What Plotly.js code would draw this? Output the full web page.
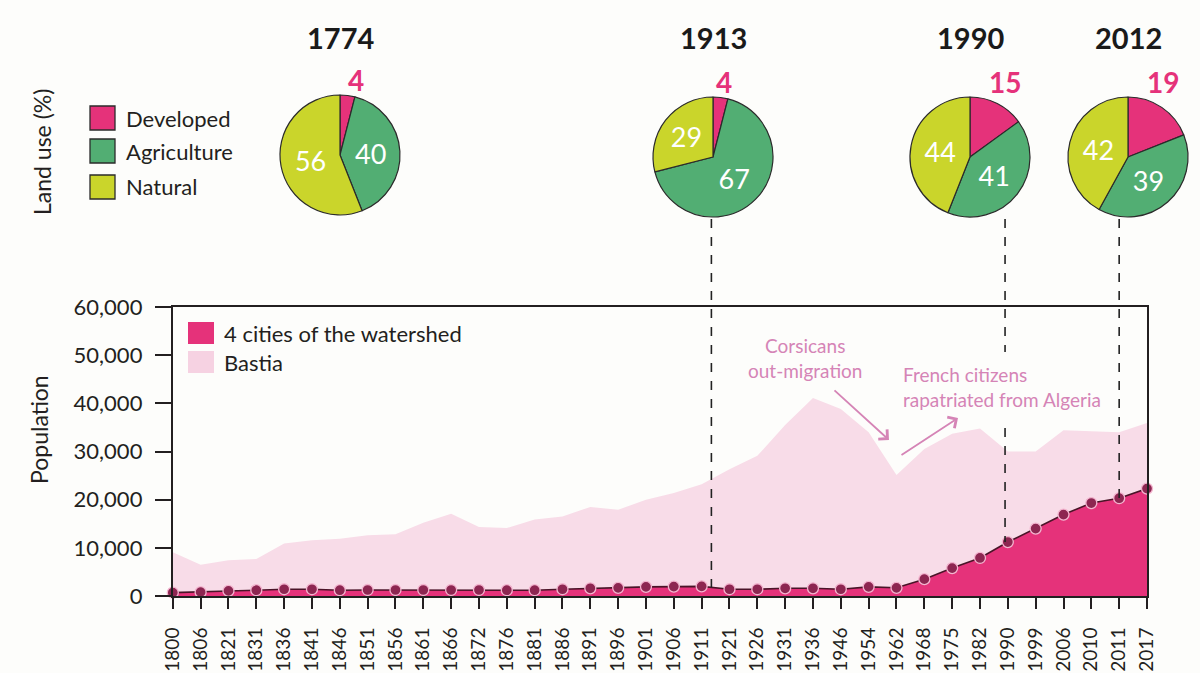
<!DOCTYPE html>
<html>
<head>
<meta charset="utf-8">
<script src="https://cdn.plot.ly/plotly-3.0.1.min.js"></script>
<style>html,body{margin:0;padding:0;background:#fdfdfb}</style>
</head>
<body>
<div id="chart" style="width:1200px;height:673px"></div>
<script>
// ---------- data ----------
const years = ['1800','1806','1821','1831','1836','1841','1846','1851','1856','1861','1866','1872','1876','1881','1886','1891','1896','1901','1906','1911','1921','1926','1931','1936','1946','1954','1962','1968','1975','1982','1990','1999','2006','2010','2011','2017'];
const bastia = [9100,6500,7400,7700,10900,11600,11900,12600,12800,15200,17100,14300,14100,15900,16500,18500,17900,20000,21400,23200,26300,29100,35500,41100,38800,34000,25100,30500,33700,34800,30000,30000,34400,34200,34000,35900];
const cities = [700,800,1050,1200,1400,1400,1200,1250,1250,1250,1250,1250,1200,1200,1400,1600,1700,1900,1950,2000,1400,1400,1600,1600,1400,1900,1700,3500,5800,7900,11200,14000,16900,19300,20300,22300];

const pieYears = ['1774','1913','1990','2012'];
const landLabels = ['Developed','Agriculture','Natural'];
const developed = [4,4,15,19];
const agriculture = [40,67,41,39];
const natural = [56,29,44,42];

const seriesNames = ['4 cities of the watershed','Bastia'];
const noteOut = 'Corsicans<br>out-migration';
const noteIn = 'French citizens<br>rapatriated from Algeria';

// ---------- styling / layout helpers ----------
const W = 1200, H = 673, MB = 77;
const PH = H - MB;                 // plotting area height (t=0)
const px = x => x / W;
const py = y => (PH - y) / PH;
const yDom = [0, (PH - 307) / PH];
const YMAX = 60000;
const yv = v => yDom[0] + v / YMAX * (yDom[1] - yDom[0]);

const PINK = '#e5327a', GREEN = '#52ae73', YELLOW = '#cad52b', LIGHT = '#f8dce8';
const DARK = '#231f20', NOTE = '#d584b6';
const FONT = 'Lato, "Open Sans", sans-serif';

const traces = [];
traces.push({
  type: 'scatter', mode: 'lines', x: years, y: bastia, name: seriesNames[1],
  fill: 'tozeroy', fillcolor: LIGHT, line: {width: 0, color: LIGHT}, hoverinfo: 'skip'
});
traces.push({
  type: 'scatter', mode: 'lines+markers', x: years, y: cities, name: seriesNames[0],
  fill: 'tozeroy', fillcolor: PINK,
  line: {width: 1.6, color: '#4a1428'},
  marker: {size: 11, color: '#8d2651', line: {color: '#f3b5cf', width: 1.3}},
  hoverinfo: 'skip', cliponaxis: false
});

// pie geometry (pixel centres, radius)
const pieCx = [340, 713, 970, 1128];
const pieCy = [155, 157, 157, 157];
const R = 60;
pieYears.forEach((yr, i) => {
  traces.push({
    type: 'pie', sort: false, direction: 'clockwise', rotation: 0,
    labels: landLabels,
    values: [developed[i], agriculture[i], natural[i]],
    marker: {colors: [PINK, GREEN, YELLOW], line: {color: '#2b2b2b', width: 1.2}},
    text: ['', String(agriculture[i]), String(natural[i])],
    textinfo: 'text', textposition: 'inside', insidetextorientation: 'horizontal',
    insidetextfont: {family: FONT, size: 27, color: '#ffffff'},
    domain: {x: [px(pieCx[i] - R), px(pieCx[i] + R)], y: [py(pieCy[i] + R), py(pieCy[i] - R)]},
    showlegend: false, hoverinfo: 'skip'
  });
});

const annotations = [];
const shapes = [];

// pie titles and developed share labels
const devPos = [[356, 80], [724, 82], [1005, 82], [1163, 82]];
pieYears.forEach((yr, i) => {
  annotations.push({xref: 'paper', yref: 'paper', x: px(pieCx[i]), y: py(38), text: '<b>' + yr + '</b>',
    showarrow: false, font: {family: FONT, size: 29, color: '#1a1a1a'}, xanchor: 'center', yanchor: 'middle'});
  annotations.push({xref: 'paper', yref: 'paper', x: px(devPos[i][0]), y: py(devPos[i][1]), text: '<b>' + developed[i] + '</b>',
    showarrow: false, font: {family: FONT, size: 28, color: PINK}, xanchor: 'center', yanchor: 'middle'});
});

// land-use legend
annotations.push({xref: 'paper', yref: 'paper', x: px(42), y: py(152), text: 'Land use (%)', textangle: -90,
  xanchor: 'center', yanchor: 'middle',
  showarrow: false, font: {family: FONT, size: 23, color: DARK}});
const pieLegY = [118, 151, 187];
const pieCols = [PINK, GREEN, YELLOW];
landLabels.forEach((lab, i) => {
  shapes.push({type: 'rect', xref: 'paper', yref: 'paper', x0: px(90), x1: px(115), y0: py(pieLegY[i] - 12), y1: py(pieLegY[i] + 12),
    fillcolor: pieCols[i], line: {color: '#2b2b2b', width: 1.3}});
  annotations.push({xref: 'paper', yref: 'paper', x: px(124), y: py(pieLegY[i]), text: lab, xanchor: 'left', yanchor: 'middle',
    showarrow: false, font: {family: FONT, size: 22, color: DARK}});
});

// population legend
const legY = [333, 362];
const legCols = [PINK, '#f6d2e2'];
seriesNames.forEach((nm, i) => {
  shapes.push({type: 'rect', xref: 'paper', yref: 'paper', x0: px(188), x1: px(214), y0: py(legY[i] - 11), y1: py(legY[i] + 11),
    fillcolor: legCols[i], line: {width: 0}});
  annotations.push({xref: 'paper', yref: 'paper', x: px(222), y: py(legY[i]), text: nm, xanchor: 'left', yanchor: 'middle',
    showarrow: false, font: {family: FONT, size: 22, color: DARK}});
});

// y-axis title
annotations.push({xref: 'paper', yref: 'paper', x: px(39), y: py(430), text: 'Population', textangle: -90,
  xanchor: 'center', yanchor: 'middle',
  showarrow: false, font: {family: FONT, size: 23, color: DARK}});

// notes and arrows
annotations.push({xref: 'paper', yref: 'paper', x: px(805), y: py(358), text: noteOut, align: 'center',
  xanchor: 'center', yanchor: 'middle',
  showarrow: false, font: {family: FONT, size: 19, color: NOTE}});
annotations.push({xref: 'paper', yref: 'paper', x: px(901), y: py(387), text: noteIn, align: 'left', xanchor: 'left',
  yanchor: 'middle',
  showarrow: false, font: {family: FONT, size: 19, color: NOTE}});
annotations.push({xref: 'paper', yref: 'paper', x: px(889), y: py(440), ax: -56, ay: -51, text: '',
  showarrow: true, arrowhead: 4, arrowsize: 1.4, arrowwidth: 1.8, arrowcolor: NOTE, standoff: 0, startstandoff: 0});
annotations.push({xref: 'paper', yref: 'paper', x: px(958), y: py(418), ax: -58, ay: 38, text: '',
  showarrow: true, arrowhead: 4, arrowsize: 1.4, arrowwidth: 1.8, arrowcolor: NOTE, standoff: 0, startstandoff: 0});

// dashed connectors from pies to the population curve (x in category index units)
const dash = {color: '#222', width: 1.6, dash: 'dash'};
const pieBottom = py(219);
const idx = y => years.indexOf(y);
// 1913: between 1911 and 1921
const x1913 = idx('1911') + 0.35;
shapes.push({type: 'line', xref: 'x', yref: 'paper', x0: x1913, x1: x1913, y0: pieBottom,
  y1: yv((cities[idx('1911')] + cities[idx('1921')]) / 2), line: dash, layer: 'above'});
// 1990
const x1990 = idx('1990') - 0.1;
shapes.push({type: 'line', xref: 'x', yref: 'paper', x0: x1990, x1: x1990, y0: pieBottom, y1: py(352), line: dash, layer: 'above'});
shapes.push({type: 'line', xref: 'x', yref: 'paper', x0: x1990, x1: x1990, y0: py(428), y1: yv(cities[idx('1990')]), line: dash, layer: 'above'});
// 2012 ~ 2011
const x2012 = idx('2011');
shapes.push({type: 'line', xref: 'x', yref: 'paper', x0: x2012, x1: x2012, y0: pieBottom, y1: yv(cities[idx('2011')]), line: dash, layer: 'above'});

const layout = {
  width: W, height: H,
  margin: {l: 0, r: 0, t: 0, b: MB, pad: 0},
  paper_bgcolor: '#fdfdfb', plot_bgcolor: '#fdfdfb',
  font: {family: FONT, color: DARK},
  showlegend: false,
  xaxis: {
    type: 'category', domain: [px(172.8), px(1147)], range: [0, years.length - 1],
    tickangle: -90, ticks: 'outside', ticklen: 11, tickwidth: 2, tickcolor: DARK,
    showline: true, linecolor: DARK, linewidth: 2, mirror: true,
    showgrid: false, zeroline: false, automargin: false, fixedrange: true,
    tickfont: {family: FONT, size: 19, color: DARK}, ticklabelstandoff: 11
  },
  yaxis: {
    domain: yDom, range: [0, YMAX], dtick: 10000, tickformat: ',d',
    ticks: 'outside', ticklen: 16, tickwidth: 2, tickcolor: DARK,
    showline: true, linecolor: DARK, linewidth: 2, mirror: true,
    showgrid: false, zeroline: false, automargin: false, fixedrange: true,
    tickfont: {family: FONT, size: 22, color: DARK}, ticklabelstandoff: 8
  },
  shapes: shapes,
  annotations: annotations
};

Plotly.newPlot('chart', traces, layout, {displayModeBar: false, staticPlot: true});
</script>
</body>
</html>
